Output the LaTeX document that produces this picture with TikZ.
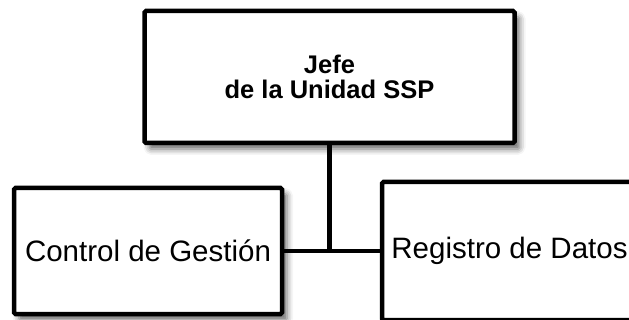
\documentclass[tikz,border=0pt]{standalone}
\usepackage{fontspec}
\setmainfont{Liberation Sans}
\usetikzlibrary{shadows.blur}

\begin{document}
\begin{tikzpicture}[
    x=1pt, y=-1pt,
    box/.style={draw, line width=4.5pt, fill=white, rounded corners=1.5pt,
        blur shadow={shadow xshift=5pt, shadow yshift=-6pt, shadow blur radius=6pt, shadow opacity=60},
        align=center, inner sep=0pt},
    chief/.style={box, font=\bfseries\fontsize{25.5}{25}\selectfont},
    unit/.style={box, font=\fontsize{29.5}{34}\selectfont},
    link/.style={line width=4.5pt}
]
    \clip (0,0) rectangle (629,320);

    % Head of the unit
    \node[chief, minimum width=370pt, minimum height=132pt] (jefe) at (329.5,77) {Jefe\\de la Unidad SSP};

    % Units below
    \node[unit, minimum width=268pt, minimum height=126pt] (control) at (148,251) {Control de Gestión};
    \node[unit, minimum width=255pt, minimum height=138pt] (registro) at (509.5,251) {Registro de Datos};

    % Connectors
    \coordinate (junction) at (jefe.south |- control.east);
    \draw[link] (jefe.south) -- (junction);
    \draw[link] (control.east) -- (registro.west);
\end{tikzpicture}
\end{document}
